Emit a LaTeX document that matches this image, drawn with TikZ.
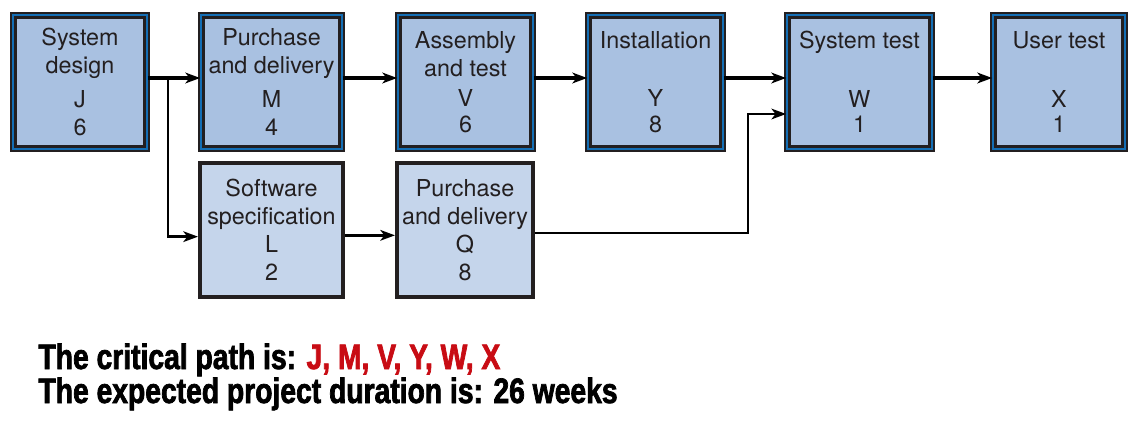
\documentclass[tikz,border=0pt]{standalone}
\usepackage{fontspec}
\usetikzlibrary{arrows.meta}
\newfontfamily\boxfont{TeX Gyre Heros}
\newfontfamily\notefont[FakeStretch=0.8,FakeBold=2]{Liberation Sans Bold}
\definecolor{critfill}{RGB}{169,193,225}
\definecolor{sidefill}{RGB}{197,213,235}
\definecolor{ringblue}{RGB}{20,110,180}
\definecolor{inkgray}{RGB}{35,31,32}
\definecolor{pathred}{RGB}{200,12,20}

\tikzset{every picture/.style={line width=0.75pt}}
\tikzset{
  critbox/.style={draw=inkgray, line width=1.8pt, double=ringblue, double distance=1.3pt,
    fill=critfill, inner sep=0pt, minimum height=100pt, align=center,
    text=inkgray, font=\boxfont\fontsize{17.5}{21}\selectfont},
  sidebox/.style={draw=inkgray, line width=3pt, fill=sidefill, inner sep=0pt,
    minimum height=100.5pt, align=center, text=inkgray,
    font=\boxfont\fontsize{17.5}{21}\selectfont},
  flow/.style={draw=black, line width=2.4pt, -{Stealth[length=11pt,width=8pt,inset=3pt]}},
  note/.style={anchor=base west, inner sep=0pt, font=\notefont\fontsize{26.5}{30}\selectfont}
}

\begin{document}
\begin{tikzpicture}[x=0.75pt,y=0.75pt,yscale=-1,xscale=1]
	\useasboundingbox (0,0) rectangle (1142,432);
	
	%Critical path boxes
	\node [critbox, minimum width=100pt] (J) at (80,82) {System\\design\\[5pt]J\\6};
	\node [critbox, minimum width=105.25pt] (M) at (271.5,82) {Purchase\\and delivery\\[5pt]M\\4};
	\node [critbox, minimum width=100.75pt] (V) at (465.5,82) {Assembly\\and test\\[2pt]V\\[-2pt]6};
	\node [critbox, minimum width=100.75pt] (Y) at (655.5,82) {Installation\\[23pt]Y\\[-2pt]8};
	\node [critbox, minimum width=108.25pt] (W) at (859.5,82) {System test\\[23pt]W\\[-2pt]1};
	\node [critbox, minimum width=98.5pt] (X) at (1059,82) {User test\\[23pt]X\\[-2pt]1};
	%Other boxes
	\node [sidebox, minimum width=107.25pt] (L) at (271.5,230) {Software\\specification\\L\\2};
	\node [sidebox, minimum width=102pt] (Q) at (465,230) {Purchase\\and delivery\\Q\\8};
	
	%Straight Lines
	\draw [flow] ([yshift=-3pt]J.east) -- ([yshift=-3pt]M.west);
	\draw [flow] ([yshift=-3pt]M.east) -- ([yshift=-3pt]V.west);
	\draw [flow] ([yshift=-3pt]V.east) -- ([yshift=-3pt]Y.west);
	\draw [flow] ([yshift=-3pt]Y.east) -- ([yshift=-3pt]W.west);
	\draw [flow] ([yshift=-3pt]W.east) -- ([yshift=-3pt]X.west);
	%Branch to L
	\coordinate (split) at (168,78);
	\draw [flow, line width=1.9pt] (split) |- ([yshift=5pt]L.west);
	\draw [flow] ([yshift=4pt]L.east) -- ([yshift=4pt]Q.west);
	%Q joins W
	\coordinate (bend) at (748,114);
	\draw [flow, line width=1.7pt] ([yshift=2.25pt]Q.east) -| (bend) -- ([yshift=24pt]W.west);
	
	% Text Node
	\node [note] (note1) at (38,369) {The critical path is: \textcolor{pathred}{J, M, V, Y, W, X}};
	% Text Node
	\node [note] (note2) at (38,403) {The expected project duration is: 26 weeks};
	
\end{tikzpicture}
\end{document}
